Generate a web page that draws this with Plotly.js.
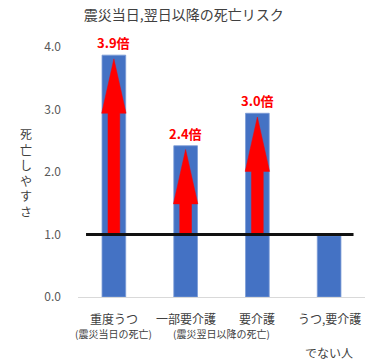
<!DOCTYPE html>
<html>
<head>
<meta charset="utf-8">
<script src="https://cdn.plot.ly/plotly-3.0.1.min.js"></script>
<style>html,body{margin:0;padding:0;background:#fff;}#chart{width:375px;height:360px;}</style>
</head>
<body>
<div id="chart"></div>
<script>
// ---- data ----
const categories = ["重度うつ", "一部要介護", "要介護", "うつ,要介護"];
const categoryExtra = ["", "", "", "でない人"];
const subLabels = ["(震災当日の死亡)", "(震災翌日以降の死亡)"];
const subLabelPos = [0, 1.5];
const riskValues = [3.87, 2.42, 2.94, 0.98];
const riskLabels = ["3.9倍", "2.4倍", "3.0倍", ""];
const referenceLevel = 1.0;
const yTicks = [0, 1, 2, 3, 4];
const titleText = "震災当日,翌日以降の死亡リスク";
const yTitleText = "死亡しやすさ";

// ---- styling ----
const JP = '"Noto Sans CJK JP", "Noto Sans", sans-serif';
const barColor = "#4472C4";
const barWidth = 0.33;
const headHalf = 0.17, shaftHalf = 0.082, tipGap = 0.06, headLen = 0.87;

const xs = categories.map((_, i) => i);
const traces = [{
  type: "bar", x: xs, y: riskValues, width: barWidth,
  marker: {color: barColor, line: {color: "#7a9bd6", width: 0.8}},
  hoverinfo: "skip"
}];

riskValues.forEach((v, i) => {
  if (!riskLabels[i]) return;
  const tip = v - tipGap, base = tip - headLen, bot = referenceLevel;
  traces.push({
    type: "scatter", mode: "lines", fill: "toself",
    fillcolor: "#FF0000",
    line: {color: "#FF0000", width: 0.5},
    x: [i - shaftHalf, i - shaftHalf, i - headHalf, i, i + headHalf, i + shaftHalf, i + shaftHalf, i - shaftHalf],
    y: [bot, base, base, tip, base, base, bot, bot],
    hoverinfo: "skip"
  });
});

const annotations = [];
riskValues.forEach((v, i) => {
  if (riskLabels[i]) annotations.push({
    x: i, y: v, xref: "x", yref: "y", yanchor: "bottom", yshift: 1,
    text: "<b>" + riskLabels[i] + "</b>", showarrow: false,
    font: {family: JP, size: 13, color: "#FF0000"}
  });
});
categories.forEach((c, i) => {
  annotations.push({x: i, y: 0, xref: "x", yref: "paper", yanchor: "middle", yshift: -21,
    text: c, showarrow: false, font: {family: JP, size: 12, color: "#404040"}});
  if (categoryExtra[i]) annotations.push({x: i, y: 0, xref: "x", yref: "paper", yanchor: "middle", yshift: -55,
    text: categoryExtra[i], showarrow: false, font: {family: JP, size: 12, color: "#404040"}});
});
subLabels.forEach((s, k) => {
  annotations.push({x: subLabelPos[k], y: 0, xref: "x", yref: "paper", yanchor: "middle", yshift: -36,
    text: s, showarrow: false, font: {family: JP, size: 10, color: "#404040"}});
});
annotations.push({x: 0, y: 0.5, xref: "paper", yref: "paper", xanchor: "center", yanchor: "middle",
  xshift: -52, text: Array.from(yTitleText).join("<br>"), showarrow: false,
  font: {family: JP, size: 12, color: "#404040"}});

const layout = {
  width: 375, height: 360,
  margin: {l: 78, r: 10, t: 47, b: 63},
  paper_bgcolor: "#fff", plot_bgcolor: "#fff",
  showlegend: false,
  title: {text: titleText, x: 0.49, xanchor: "center", y: 0.958, yanchor: "middle",
    font: {family: JP, size: 14, color: "#404040"}},
  xaxis: {range: [-0.5, 3.5], showgrid: false, zeroline: false, showticklabels: false,
    showline: true, linecolor: "#d9d9d9", linewidth: 1, fixedrange: true},
  yaxis: {range: [0, 4], tickvals: yTicks, tickformat: ".1f", showgrid: false, zeroline: false,
    showline: false, ticks: "", ticklabelstandoff: 16,
    tickfont: {family: JP, size: 12, color: "#595959"}, fixedrange: true},
  shapes: [{type: "line", xref: "paper", yref: "y", x0: 0.028, x1: 0.96,
    y0: referenceLevel, y1: referenceLevel, layer: "above",
    line: {color: "#111111", width: 3}}],
  annotations: annotations
};

Plotly.newPlot("chart", traces, layout, {staticPlot: true, displayModeBar: false});
</script>
</body>
</html>
